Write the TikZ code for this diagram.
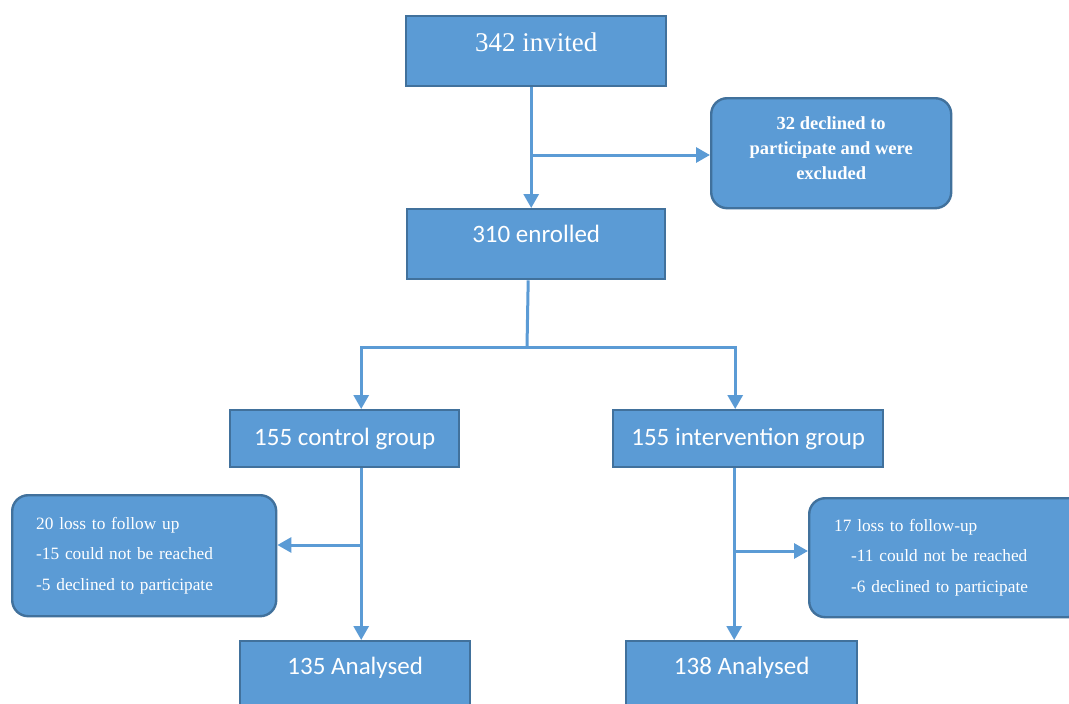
\documentclass[tikz,border=0pt]{standalone}
\usepackage{fontspec}
\setmainfont{Liberation Serif}
\newfontfamily\carl{Carlito}
\usetikzlibrary{arrows.meta}
\definecolor{boxfill}{HTML}{5B9BD5}
\definecolor{boxline}{HTML}{41719C}
\definecolor{conn}{HTML}{5B9BD5}
\tikzset{
  box/.style={draw=boxline, fill=boxfill, line width=2.4pt, inner sep=0pt, text=white, anchor=north west},
  rbox/.style={box, rounded corners=16pt},
  serifbig/.style={font=\fontsize{27}{31}\selectfont},
  sansbig/.style={font=\carl\fontsize{25}{29}\selectfont},
  lossfont/.style={font=\fontsize{17.3}{30.5}\selectfont},
  conline/.style={draw=conn, line width=3pt},
  arr/.style={conline, -{Triangle[width=15pt,length=14pt]}},
}
\begin{document}
\begin{tikzpicture}[x=1pt,y=-1pt]
\useasboundingbox (0,0) rectangle (1069,704);
\clip (0,0) rectangle (1069,704);
\fill[white] (0,0) rectangle (1069,704);

% boxes
\node[box, serifbig, minimum width=260pt, text height=35pt, text depth=35pt] (invited) at (405,15) {342 invited};
\node[rbox, minimum width=240pt, minimum height=110pt, align=center, font=\bfseries\fontsize{18.5}{25}\selectfont] (declined) at (710,97) {32 declined to\\participate and were\\excluded\\[-14pt]};
\node[box, sansbig, minimum width=258pt, text height=33pt, text depth=37pt] (enrolled) at (406,208) {310 enrolled};
\node[box, sansbig, minimum width=229pt, text height=35pt, text depth=22pt] (control) at (229,409) {155 control group};
\node[box, sansbig, minimum width=270pt, text height=35pt, text depth=22pt] (interv) at (612,409) {155 intervention group};
\node[rbox, minimum width=264pt, minimum height=121pt, align=left, text width=216pt, lossfont] (lossL) at (11,494) {20 loss to follow up\\-15 could not be reached\\-5 declined to participate\\[-6pt]};
\node[rbox, minimum width=275pt, minimum height=119pt, align=left, text width=225pt, lossfont] (lossR) at (808,497) {17 loss to follow-up\\\hspace*{17pt}-11 could not be reached\\\hspace*{17pt}-6 declined to participate\\[-6pt]};
\node[box, sansbig, minimum width=230pt, text height=33pt, text depth=40pt] (an1) at (239,640) {135 Analysed};
\node[box, sansbig, minimum width=231pt, text height=33pt, text depth=40pt] (an2) at (625,640) {138 Analysed};

% connectors
\draw[arr] ([xshift=-5pt]invited.south) -- ([xshift=-5pt]enrolled.north);
\coordinate (b1) at (530,155);
\draw[arr] (b1) -- (b1 -| declined.west);

\coordinate (s2) at (527,347);
\draw[conline] ([xshift=-8pt]enrolled.south) -- (s2);
\draw[arr] (s2) -| ([xshift=16.5pt]control.north);
\draw[arr] (s2) -| ([xshift=-13pt]interv.north);

\draw[arr] ([xshift=16.5pt]control.south) -- ([xshift=6pt]an1.north);
\coordinate (b3) at (360,545);
\draw[arr] (b3) -- (b3 -| lossL.east);

\draw[arr] ([xshift=-14pt]interv.south) -- ([xshift=-7.5pt]an2.north);
\coordinate (b4) at (733,551);
\draw[arr] (b4) -- (b4 -| lossR.west);
\end{tikzpicture}
\end{document}
